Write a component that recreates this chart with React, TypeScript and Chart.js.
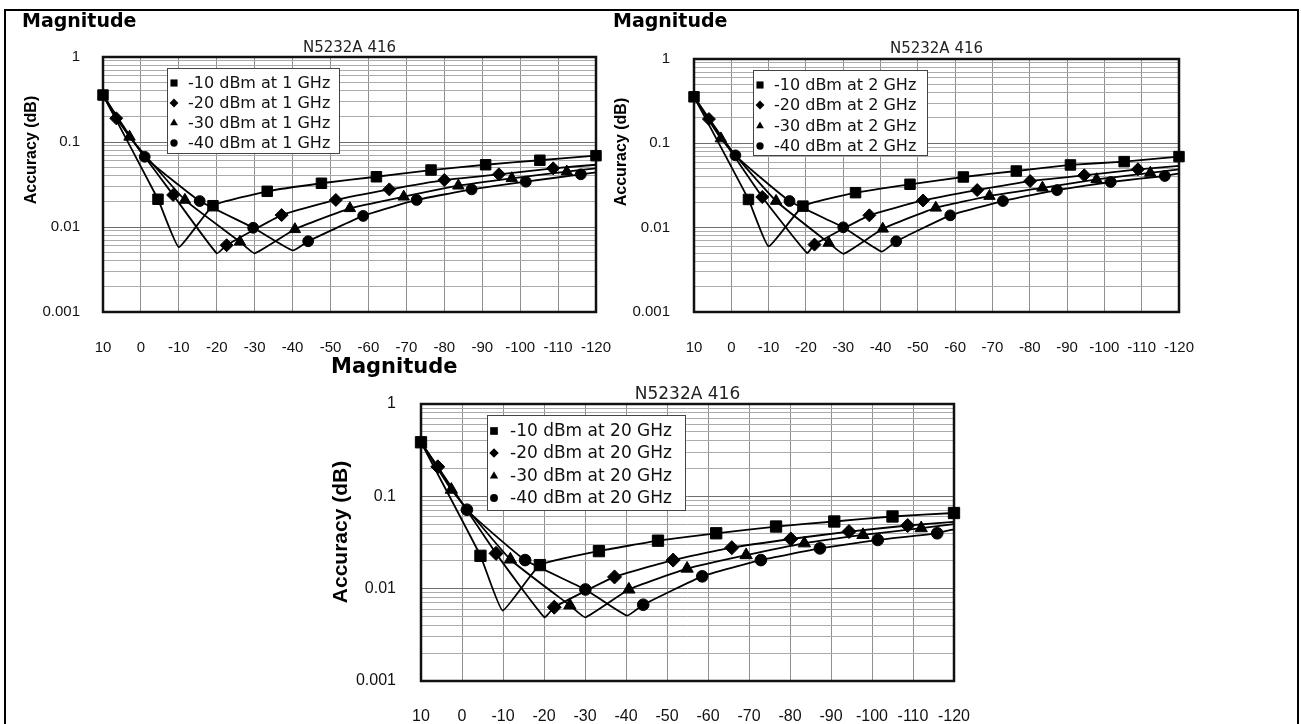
import React, { useEffect, useRef } from 'react';
import { Chart, registerables } from 'chart.js';

Chart.register(...registerables);

// ---------- text ----------
const HEADER = 'Magnitude';
const CHART_TITLE = 'N5232A 416';
const Y_TITLE = 'Accuracy (dB)';
const POWER_LABELS = ['-10 dBm', '-20 dBm', '-30 dBm', '-40 dBm'];
const FREQ_LABELS = ['1 GHz', '2 GHz', '20 GHz'];

// ---------- axes ----------
const X_TICKS = [10, 0, -10, -20, -30, -40, -50, -60, -70, -80, -90, -100, -110, -120];
const Y_DECADES = [0.001, 0.01, 0.1, 1];
const Y_DECADE_LABELS = ['0.001', '0.01', '0.1', '1'];
const Y_STEPS = [1, 2, 3, 4, 5, 6, 7, 8, 9];

type Pt = [number, number];

// ---------- 1 GHz ----------
const g1SqMarks: Pt[] = [[10, 0.357], [-4.5, 0.0212], [-19, 0.0178], [-33.3, 0.0263], [-47.6, 0.0327], [-62.1, 0.039], [-76.5, 0.0468], [-90.9, 0.054], [-105.2, 0.061], [-120, 0.069]];
const g1SqCurve: Pt[] = [[-10, 0.0058]];
const g1DiMarks: Pt[] = [[6.5, 0.19], [-8.5, 0.0238], [-22.6, 0.0061], [-37.1, 0.0138], [-51.4, 0.0208], [-65.5, 0.0277], [-80, 0.0357], [-94.4, 0.0417], [-108.7, 0.049]];
const g1DiCurve: Pt[] = [[10, 0.357], [-20, 0.0049], [-120, 0.054]];
const g1TrMarks: Pt[] = [[3, 0.115], [-11.6, 0.0208], [-26.1, 0.0067], [-40.6, 0.0094], [-55.1, 0.0166], [-69.3, 0.0227], [-83.7, 0.0306], [-97.8, 0.0374], [-112.3, 0.0448]];
const g1TrCurve: Pt[] = [[10, 0.357], [-30, 0.0049], [-120, 0.049]];
const g1CiMarks: Pt[] = [[-1, 0.067], [-15.5, 0.0202], [-29.6, 0.0098], [-44.1, 0.0068], [-58.6, 0.0135], [-72.7, 0.0208], [-87.2, 0.0277], [-101.5, 0.0341], [-116, 0.0417]];
const g1CiCurve: Pt[] = [[10, 0.357], [-40, 0.0053], [-120, 0.044]];

// ---------- 2 GHz ----------
const g2SqMarks: Pt[] = [[10, 0.356], [-4.6, 0.0216], [-19.2, 0.018], [-33.3, 0.026], [-47.9, 0.0327], [-62.2, 0.0399], [-76.4, 0.047], [-90.9, 0.0554], [-105.3, 0.0607], [-120, 0.0696]];
const g2SqCurve: Pt[] = [[-10, 0.006]];
const g2DiMarks: Pt[] = [[6, 0.194], [-8.3, 0.0231], [-22.3, 0.0063], [-37, 0.014], [-51.4, 0.021], [-65.9, 0.0279], [-80.1, 0.0357], [-94.6, 0.0418], [-109, 0.0492]];
const g2DiCurve: Pt[] = [[10, 0.356], [-20.3, 0.005], [-120, 0.054]];
const g2TrMarks: Pt[] = [[2.8, 0.114], [-12, 0.0207], [-26.1, 0.0066], [-40.6, 0.0097], [-54.8, 0.0172], [-69.2, 0.0237], [-83.4, 0.0297], [-97.9, 0.0374], [-112.3, 0.0446]];
const g2TrCurve: Pt[] = [[10, 0.356], [-30.1, 0.0049], [-120, 0.049]];
const g2CiMarks: Pt[] = [[-1.1, 0.072], [-15.6, 0.0207], [-30, 0.0101], [-44.2, 0.0069], [-58.7, 0.014], [-72.8, 0.0207], [-87.3, 0.0279], [-101.7, 0.0348], [-116.2, 0.041]];
const g2CiCurve: Pt[] = [[10, 0.356], [-40.3, 0.0052], [-120, 0.044]];

// ---------- 20 GHz ----------
const g20SqMarks: Pt[] = [[10, 0.385], [-4.5, 0.0227], [-19, 0.018], [-33.4, 0.0255], [-47.8, 0.0331], [-62, 0.0398], [-76.6, 0.0471], [-90.8, 0.0534], [-105, 0.0605], [-120, 0.066]];
const g20SqCurve: Pt[] = [[-9.9, 0.0058]];
const g20DiMarks: Pt[] = [[5.9, 0.209], [-8.3, 0.0241], [-22.5, 0.0063], [-37.2, 0.0134], [-51.5, 0.0204], [-65.8, 0.0278], [-80.2, 0.0345], [-94.4, 0.0415], [-108.7, 0.0483]];
const g20DiCurve: Pt[] = [[10, 0.385], [-20.1, 0.0049], [-120, 0.053]];
const g20TrMarks: Pt[] = [[2.6, 0.118], [-11.8, 0.0207], [-26.3, 0.0066], [-40.7, 0.0098], [-54.9, 0.0165], [-69.3, 0.0231], [-83.5, 0.031], [-97.8, 0.0382], [-112, 0.0452]];
const g20TrCurve: Pt[] = [[10, 0.385], [-30.1, 0.0049], [-120, 0.05]];
const g20CiMarks: Pt[] = [[-1.2, 0.0716], [-15.4, 0.0204], [-30.1, 0.0098], [-44.2, 0.0067], [-58.6, 0.0136], [-72.9, 0.0204], [-87.3, 0.0273], [-101.4, 0.0337], [-115.9, 0.0398]];
const g20CiCurve: Pt[] = [[10, 0.385], [-40.2, 0.0051], [-120, 0.044]];

const SERIES_1G = [
  { marks: g1SqMarks, curve: g1SqCurve },
  { marks: g1DiMarks, curve: g1DiCurve },
  { marks: g1TrMarks, curve: g1TrCurve },
  { marks: g1CiMarks, curve: g1CiCurve },
];
const SERIES_2G = [
  { marks: g2SqMarks, curve: g2SqCurve },
  { marks: g2DiMarks, curve: g2DiCurve },
  { marks: g2TrMarks, curve: g2TrCurve },
  { marks: g2CiMarks, curve: g2CiCurve },
];
const SERIES_20G = [
  { marks: g20SqMarks, curve: g20SqCurve },
  { marks: g20DiMarks, curve: g20DiCurve },
  { marks: g20TrMarks, curve: g20TrCurve },
  { marks: g20CiMarks, curve: g20CiCurve },
];

// ---------- styling / layout ----------
const FONT = '"DejaVu Sans", sans-serif';
const TICK_FONT = '"Liberation Sans", Arial, sans-serif';
const POINT_STYLES = ['rect', 'rectRot', 'triangle', 'circle'];
const POINT_RADII = [7.4, 6.5, 6.6, 5.4];

interface Layout {
  plot: { l: number; t: number; r: number; b: number };
  k: number;
  header: { x: number; y: number; size: number };
  sub: { y: number; size: number };
  ytitle: { x: number; y: number; size: number };
  legend: { x: number; y: number; w: number; h: number; rows: number[]; markX: number; textX: number; size: number };
  tickSize: number;
  xPad: number;
  yPad: number;
  yAxisW: number;
  xAxisH: number;
}

const LAYOUTS: Layout[] = [
  {
    plot: { l: 103, t: 57, r: 596, b: 312 }, k: 1,
    header: { x: 22, y: 27, size: 19 },
    sub: { y: 51.5, size: 15 },
    ytitle: { x: 32, y: 150, size: 16 },
    legend: { x: 167, y: 68, w: 172, h: 85, rows: [83, 103, 123, 143], markX: 174, textX: 188, size: 16 },
    tickSize: 15, xPad: 27, yPad: 23, yAxisW: 100, xAxisH: 60,
  },
  {
    plot: { l: 694, t: 59, r: 1179, b: 312 }, k: 1,
    header: { x: 613, y: 27, size: 19 },
    sub: { y: 52.5, size: 15 },
    ytitle: { x: 622, y: 152, size: 16 },
    legend: { x: 753, y: 70, w: 174, h: 85, rows: [85, 105, 126, 146], markX: 760, textX: 774, size: 16 },
    tickSize: 15, xPad: 27, yPad: 24, yAxisW: 100, xAxisH: 60,
  },
  {
    plot: { l: 421, t: 404, r: 954, b: 681 }, k: 1.08,
    header: { x: 331, y: 373, size: 21 },
    sub: { y: 399, size: 17 },
    ytitle: { x: 341, y: 532, size: 21 },
    legend: { x: 487, y: 415, w: 198, h: 95, rows: [431, 453, 476, 498], markX: 494, textX: 510, size: 17 },
    tickSize: 16, xPad: 26, yPad: 25, yAxisW: 100, xAxisH: 43,
  },
];

const W = 1301;
const H = 724;

function isDecade(v: number) {
  const l = Math.log10(v);
  return Math.abs(l - Math.round(l)) < 1e-9;
}

function drawMarker(ctx: CanvasRenderingContext2D, style: string, x: number, y: number, r: number) {
  ctx.beginPath();
  if (style === 'rect') {
    const s = r * Math.SQRT1_2;
    ctx.rect(x - s, y - s, 2 * s, 2 * s);
  } else if (style === 'rectRot') {
    ctx.moveTo(x - r, y);
    ctx.lineTo(x, y - r);
    ctx.lineTo(x + r, y);
    ctx.lineTo(x, y + r);
    ctx.closePath();
  } else if (style === 'triangle') {
    for (let i = 0; i < 3; i++) {
      const a = -Math.PI / 2 + (i * 2 * Math.PI) / 3;
      const px = x + Math.cos(a) * r;
      const py = y + Math.sin(a) * r;
      if (i === 0) ctx.moveTo(px, py); else ctx.lineTo(px, py);
    }
    ctx.closePath();
  } else {
    ctx.arc(x, y, r, 0, Math.PI * 2);
  }
  ctx.fill();
}

function makeDecor(L: Layout) {
  return {
    id: 'decor',
    beforeDatasetsDraw(chart: any) {
      const { ctx, chartArea: a } = chart;
      ctx.save();
      ctx.strokeStyle = '#111';
      ctx.lineWidth = 2.5;
      ctx.strokeRect(a.left, a.top, a.right - a.left, a.bottom - a.top);
      ctx.restore();
    },
    afterDraw(chart: any) {
      const { ctx, chartArea: a } = chart;
      ctx.save();
      ctx.fillStyle = '#000';
      ctx.textAlign = 'left';
      ctx.textBaseline = 'alphabetic';
      ctx.font = `bold ${L.header.size}px ${FONT}`;
      ctx.fillText(HEADER, L.header.x, L.header.y);
      ctx.fillStyle = '#222';
      ctx.textAlign = 'center';
      ctx.font = `${L.sub.size}px ${FONT}`;
      ctx.fillText(CHART_TITLE, (a.left + a.right) / 2, L.sub.y);
      ctx.save();
      ctx.translate(L.ytitle.x, L.ytitle.y);
      ctx.rotate(-Math.PI / 2);
      ctx.textBaseline = 'middle';
      ctx.fillStyle = '#000';
      ctx.font = `bold ${L.ytitle.size}px ${TICK_FONT}`;
      ctx.fillText(Y_TITLE, 0, 0);
      ctx.restore();

      // legend
      const lg = L.legend;
      ctx.fillStyle = '#fff';
      ctx.fillRect(lg.x, lg.y, lg.w, lg.h);
      ctx.strokeStyle = '#444';
      ctx.lineWidth = 1;
      ctx.strokeRect(lg.x + 0.5, lg.y + 0.5, lg.w, lg.h);
      const labelled = chart.data.datasets.filter((d: any) => d.label);
      labelled.forEach((d: any, i: number) => {
        const y = lg.rows[i];
        ctx.fillStyle = '#000';
        drawMarker(ctx, d.pointStyle, lg.markX, y, d.pointRadius * 0.68);
        ctx.textAlign = 'left';
        ctx.textBaseline = 'middle';
        ctx.font = `${lg.size}px ${FONT}`;
        ctx.fillStyle = '#111';
        ctx.fillText(d.label, lg.textX, y + 0.5);
      });
      ctx.restore();
    },
  };
}

function buildDatasets(series: { marks: Pt[]; curve: Pt[] }[], freq: string, k: number) {
  const ds: any[] = [];
  series.forEach((s) => {
    const path = [...s.marks, ...s.curve].sort((p, q) => q[0] - p[0]).map(([x, y]) => ({ x, y }));
    ds.push({
      data: path,
      borderColor: '#000',
      borderWidth: 1.8,
      pointRadius: 0,
      tension: 0.12,
      fill: false,
      clip: false,
      order: 1,
    });
  });
  series.forEach((s, i) => {
    ds.push({
      label: `${POWER_LABELS[i]} at ${freq}`,
      data: s.marks.map(([x, y]) => ({ x, y })),
      showLine: false,
      pointStyle: POINT_STYLES[i],
      pointRadius: POINT_RADII[i] * k,
      pointBackgroundColor: '#000',
      pointBorderColor: '#000',
      pointBorderWidth: 1,
      clip: false,
      order: 0,
    });
  });
  return ds;
}

function Panel({ layout, series, freq }: { layout: Layout; series: { marks: Pt[]; curve: Pt[] }[]; freq: string }) {
  const ref = useRef<HTMLCanvasElement | null>(null);
  useEffect(() => {
    if (!ref.current) return;
    const L = layout;
    const gridValues: number[] = [];
    Y_DECADES.slice(0, 3).forEach((d) => Y_STEPS.forEach((m) => gridValues.push(+(d * m).toPrecision(6))));
    gridValues.push(Y_DECADES[3]);

    const chart = new Chart(ref.current, {
      type: 'line',
      data: { datasets: buildDatasets(series, freq, L.k) },
      options: {
        responsive: false,
        animation: false,
        events: [],
        layout: {
          padding: {
            left: L.plot.l - L.yAxisW,
            top: L.plot.t,
            right: W - L.plot.r,
            bottom: H - L.plot.b - L.xAxisH,
          },
        },
        plugins: { legend: { display: false }, tooltip: { enabled: false }, title: { display: false } },
        scales: {
          x: {
            type: 'linear',
            min: X_TICKS[X_TICKS.length - 1],
            max: X_TICKS[0],
            reverse: true,
            afterBuildTicks: (sc: any) => {
              sc.ticks = X_TICKS.map((v) => ({ value: v }));
            },
            afterFit: (sc: any) => {
              sc.height = L.xAxisH;
            },
            border: { display: false },
            grid: { color: '#8f8f8f', lineWidth: 1, drawTicks: false },
            ticks: {
              autoSkip: false,
              maxRotation: 0,
              padding: L.xPad,
              color: '#111',
              font: { family: TICK_FONT, size: L.tickSize },
              callback: (v: any) => String(v),
            },
          },
          y: {
            type: 'logarithmic',
            min: Y_DECADES[0],
            max: Y_DECADES[3],
            afterBuildTicks: (sc: any) => {
              sc.ticks = gridValues.map((v) => ({ value: v, major: isDecade(v) }));
            },
            afterFit: (sc: any) => {
              sc.width = L.yAxisW;
            },
            border: { display: false },
            grid: {
              drawTicks: false,
              lineWidth: 1,
              color: (c: any) => (c.tick && isDecade(c.tick.value) ? '#6e6e6e' : '#ababab'),
            },
            ticks: {
              autoSkip: false,
              padding: L.yPad,
              color: '#111',
              font: { family: TICK_FONT, size: L.tickSize },
              callback: (v: any) => {
                const idx = Y_DECADES.findIndex((d) => Math.abs(d - Number(v)) < 1e-12);
                return idx >= 0 ? Y_DECADE_LABELS[idx] : '';
              },
            },
          },
        },
      },
      plugins: [makeDecor(L)],
    } as any);
    return () => chart.destroy();
  }, [layout, series, freq]);
  return (
    <canvas
      ref={ref}
      width={W}
      height={H}
      style={{ position: 'absolute', left: 0, top: 0 }}
    />
  );
}

export default function App() {
  return (
    <div
      style={{
        position: 'fixed',
        left: 0,
        top: 0,
        width: W,
        height: H,
        overflow: 'hidden',
        background: '#fff',
      }}
    >
      <div
        style={{
          position: 'absolute',
          left: 4,
          top: 9,
          width: 1295,
          height: 800,
          boxSizing: 'border-box',
          border: '2px solid #000',
        }}
      />
      <Panel layout={LAYOUTS[0]} series={SERIES_1G} freq={FREQ_LABELS[0]} />
      <Panel layout={LAYOUTS[1]} series={SERIES_2G} freq={FREQ_LABELS[1]} />
      <Panel layout={LAYOUTS[2]} series={SERIES_20G} freq={FREQ_LABELS[2]} />
    </div>
  );
}
